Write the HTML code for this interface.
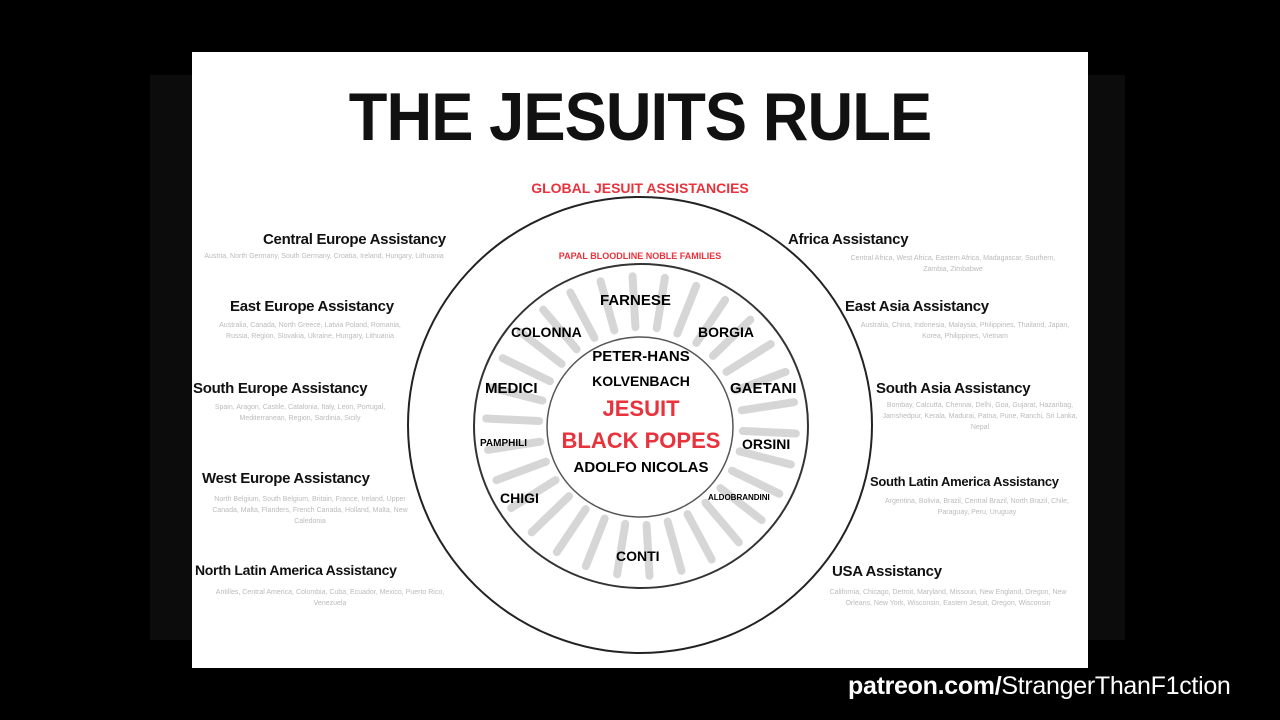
<!DOCTYPE html>
<html><head><meta charset="utf-8"><style>
body{margin:0;width:1280px;height:720px;background:#000;position:relative;overflow:hidden;font-family:"Liberation Sans",sans-serif}
.band{position:absolute;left:150px;top:75px;width:975px;height:565px;background:#0c0c0c}
.panel{position:absolute;left:192px;top:52px;width:896px;height:616px;background:#fff}
.t{position:absolute;white-space:nowrap;font-weight:bold}
.h{font-size:15px;color:#111;letter-spacing:-0.3px}
.s{font-size:7px;color:#bbb;font-weight:normal;line-height:11px;white-space:normal}
</style></head><body>
<div class="band"></div>
<div class="panel"></div>
<div class="t" style="left:0;width:1280px;text-align:center;top:78px;font-size:68px;color:#111;letter-spacing:-1px;transform:scaleX(0.93)">THE JESUITS RULE</div>
<div class="t" style="left:0;width:1280px;text-align:center;top:180px;font-size:14px;color:#e8323c">GLOBAL JESUIT ASSISTANCIES</div>
<svg style="position:absolute;left:0;top:0" width="1280" height="720">
<g stroke="#bbb" stroke-width="8" stroke-linecap="round" opacity="0.6">
<g id="r"></g>
</g>
<ellipse cx="640" cy="425" rx="232" ry="228" fill="none" stroke="#222" stroke-width="2"/>
<ellipse cx="641" cy="426" rx="167" ry="162" fill="none" stroke="#333" stroke-width="2"/>
<ellipse cx="640" cy="427" rx="93" ry="90" fill="#fff" stroke="#555" stroke-width="1.5"/>
<text x="640" y="259" font-size="9" fill="#e8323c" text-anchor="middle" font-family="Liberation Sans" font-weight="bold">PAPAL BLOODLINE NOBLE FAMILIES</text>
</svg>
<script>
var g=document.getElementById('r'),s='';
for(var i=0;i<30;i++){var a=i*Math.PI/15+0.05;var c=Math.cos(a),d=Math.sin(a);
s+='<line x1="'+(641+c*102)+'" y1="'+(426+d*99)+'" x2="'+(641+c*155)+'" y2="'+(426+d*150)+'"/>';}
g.innerHTML=s;
</script>
<div class="t" style="left:600px;top:292px;font-size:15px">FARNESE</div>
<div class="t" style="left:511px;top:324px;font-size:14px">COLONNA</div>
<div class="t" style="left:698px;top:324px;font-size:14px">BORGIA</div>
<div class="t" style="left:485px;top:380px;font-size:15px">MEDICI</div>
<div class="t" style="left:730px;top:380px;font-size:15px">GAETANI</div>
<div class="t" style="left:480px;top:438px;font-size:10px">PAMPHILI</div>
<div class="t" style="left:742px;top:436px;font-size:14px">ORSINI</div>
<div class="t" style="left:500px;top:490px;font-size:14px">CHIGI</div>
<div class="t" style="left:708px;top:493px;font-size:8px">ALDOBRANDINI</div>
<div class="t" style="left:616px;top:548px;font-size:14px">CONTI</div>
<div class="t" style="left:0;width:1282px;text-align:center;top:348px;font-size:15px">PETER-HANS</div>
<div class="t" style="left:0;width:1282px;text-align:center;top:373px;font-size:14px">KOLVENBACH</div>
<div class="t" style="left:0;width:1282px;text-align:center;top:396px;font-size:22px;color:#e8323c">JESUIT</div>
<div class="t" style="left:0;width:1282px;text-align:center;top:428px;font-size:22px;color:#e8323c">BLACK POPES</div>
<div class="t" style="left:0;width:1282px;text-align:center;top:459px;font-size:15px">ADOLFO NICOLAS</div>

<div class="t h" style="left:263px;top:231px">Central Europe Assistancy</div>
<div class="t s" style="left:204px;top:251px;width:240px;text-align:center">Austria, North Germany, South Germany, Croatia, Ireland, Hungary, Lithuania</div>
<div class="t h" style="left:230px;top:298px">East Europe Assistancy</div>
<div class="t s" style="left:210px;top:320px;width:200px;text-align:center">Australia, Canada, North Greece, Latvia Poland, Romania, Russia, Region, Slovakia, Ukraine, Hungary, Lithuania</div>
<div class="t h" style="left:193px;top:380px">South Europe Assistancy</div>
<div class="t s" style="left:200px;top:402px;width:200px;text-align:center">Spain, Aragon, Castile, Catalonia, Italy, Leon, Portugal, Mediterranean, Region, Sardinia, Sicily</div>
<div class="t h" style="left:202px;top:470px">West Europe Assistancy</div>
<div class="t s" style="left:205px;top:494px;width:210px;text-align:center">North Belgium, South Belgium, Britain, France, Ireland, Upper Canada, Malta, Flanders, French Canada, Holland, Malta, New Caledonia</div>
<div class="t h" style="left:195px;top:562px;font-size:14px">North Latin America Assistancy</div>
<div class="t s" style="left:205px;top:587px;width:250px;text-align:center">Antilles, Central America, Colombia, Cuba, Ecuador, Mexico, Puerto Rico, Venezuela</div>

<div class="t h" style="left:788px;top:231px">Africa Assistancy</div>
<div class="t s" style="left:848px;top:253px;width:210px;text-align:center">Central Africa, West Africa, Eastern Africa, Madagascar, Southern, Zambia, Zimbabwe</div>
<div class="t h" style="left:845px;top:298px">East Asia Assistancy</div>
<div class="t s" style="left:860px;top:320px;width:210px;text-align:center">Australia, China, Indonesia, Malaysia, Philippines, Thailand, Japan, Korea, Philippines, Vietnam</div>
<div class="t h" style="left:876px;top:380px">South Asia Assistancy</div>
<div class="t s" style="left:880px;top:400px;width:200px;text-align:center">Bombay, Calcutta, Chennai, Delhi, Goa, Gujarat, Hazaribag, Jamshedpur, Kerala, Madurai, Patna, Pune, Ranchi, Sri Lanka, Nepal</div>
<div class="t h" style="left:870px;top:474px;font-size:13px">South Latin America Assistancy</div>
<div class="t s" style="left:872px;top:496px;width:210px;text-align:center">Argentina, Bolivia, Brazil, Central Brazil, North Brazil, Chile, Paraguay, Peru, Uruguay</div>
<div class="t h" style="left:832px;top:563px">USA Assistancy</div>
<div class="t s" style="left:818px;top:587px;width:260px;text-align:center">California, Chicago, Detroit, Maryland, Missouri, New England, Oregon, New Orleans, New York, Wisconsin, Eastern Jesuit, Oregon, Wisconsin</div>

<div class="t" style="left:848px;top:672px;font-size:25px;color:#fff;letter-spacing:-0.3px">patreon.com/<span style="font-weight:normal">StrangerThanF1ction</span></div>
</body></html>
